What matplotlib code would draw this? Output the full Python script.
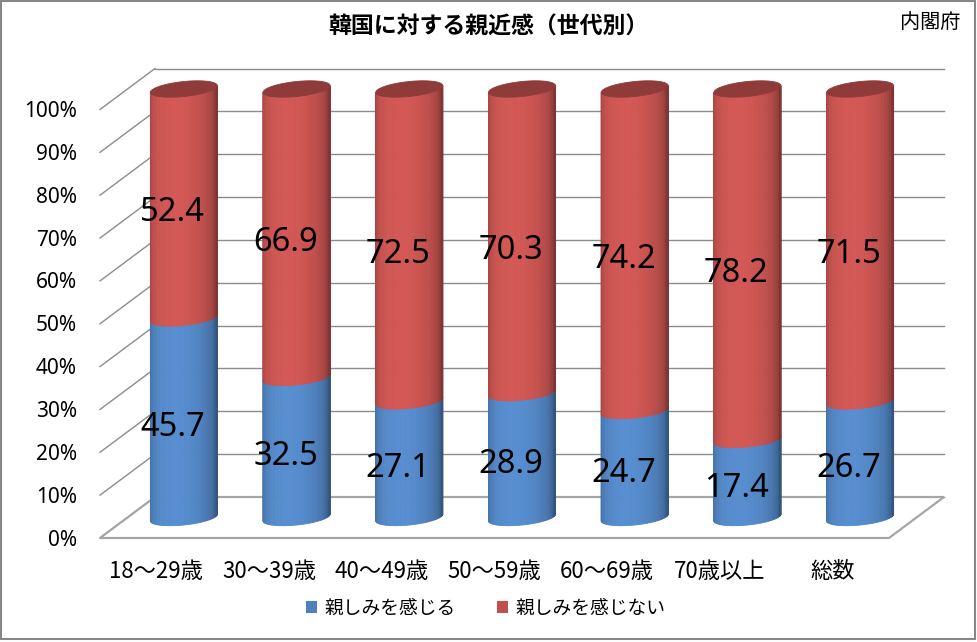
import numpy as np
import matplotlib.pyplot as plt
from matplotlib.patches import Polygon, Patch, Rectangle
from matplotlib.collections import PolyCollection
from matplotlib.colors import to_rgb

plt.rcParams['font.family'] = ['Noto Sans CJK JP', 'DejaVu Sans']

# data (values shown on the cylinders; drawn as 100% stacked)
categories = ["18～29歳", "30～39歳", "40～49歳", "50～59歳", "60～69歳", "70歳以上", "総数"]
feel_close = [45.7, 32.5, 27.1, 28.9, 24.7, 17.4, 26.7]
not_close = [52.4, 66.9, 72.5, 70.3, 74.2, 78.2, 71.5]
series_names = ["親しみを感じる", "親しみを感じない"]
y_ticks = [0, 10, 20, 30, 40, 50, 60, 70, 80, 90, 100]

BLUE = "#4F81BD"
RED = "#C0504D"
GRID = "#8C8C8C"

W, H = 977, 642
fig = plt.figure(figsize=(W / 100, H / 100), dpi=100)

# axes = middle depth plane of the fake 3d box
ax = fig.add_axes([127.5 / W, 124.5 / H, 789 / W, 428.5 / H])
ax.set_xlim(-0.5, len(categories) - 0.5)
ax.set_ylim(0, 100)
ax.axis("off")

px_x = 789 / len(categories)   # pixels per category
px_y = 428.5 / 100             # pixels per percent
dep_x = 27.5 / px_x            # half depth, data units
dep_y = 20.5 / px_y
xl, xr = -0.5, len(categories) - 0.5

# back wall grid, left wall diagonals
for v in y_ticks:
    ax.plot([xl + dep_x, xr + dep_x], [v + dep_y, v + dep_y], color=GRID, lw=1, zorder=1, clip_on=False)
    ax.plot([xl - dep_x, xl + dep_x], [v - dep_y, v + dep_y], color=GRID, lw=1, zorder=1, clip_on=False)

# floor
floor = Polygon([(xl - dep_x, -dep_y), (xr - dep_x, -dep_y), (xr + dep_x, dep_y), (xl + dep_x, dep_y)],
                closed=True, facecolor="white", edgecolor="#A6A6A6", lw=1.6, zorder=2, clip_on=False)
ax.add_patch(floor)

# cylinder shape (pixels)
R = 33.5
B = 7.5
K = 0.1
t_front = np.linspace(np.pi, 2 * np.pi, 49)


def ring(cx, level, t):
    x = cx + R * np.cos(t) / px_x
    y = level + (B * np.sin(t) + K * R * np.cos(t)) / px_y
    return x, y


def shade(base, s):
    return tuple(np.clip(np.array(to_rgb(base)) * s, 0, 1))


def body(cx, lo, hi, base):
    polys, cols = [], []
    for t0, t1 in zip(t_front[:-1], t_front[1:]):
        xa, ya = ring(cx, lo, np.array([t0, t1]))
        xb, yb = ring(cx, hi, np.array([t1, t0]))
        polys.append(list(zip(np.r_[xa, xb], np.r_[ya, yb])))
        th = (t0 + t1) / 2 - 1.5 * np.pi
        s = 0.66 + 0.44 * max(np.cos(th + 0.25), 0) ** 0.7
        cols.append(shade(base, s))
    pc = PolyCollection(polys, facecolors=cols, edgecolors=cols, linewidths=0.6, zorder=3, clip_on=False)
    ax.add_collection(pc)


def cap(cx, level, base):
    t = np.linspace(0, 2 * np.pi, 100)
    x, y = ring(cx, level, t)
    ax.add_patch(Polygon(list(zip(x, y)), closed=True, facecolor=shade(base, 0.74),
                         edgecolor=shade(base, 0.74), lw=0.6, zorder=4, clip_on=False))


for i, (a, b) in enumerate(zip(feel_close, not_close)):
    pa = a / (a + b) * 100
    body(i, 0, pa, BLUE)
    body(i, pa, 100, RED)
    cap(i, 100, RED)
    for val, mid in [(a, pa / 2), (b, (pa + 100) / 2)]:
        ax.annotate(f"{val}", xy=(i, mid), xytext=(-11, -9.5), textcoords="offset pixels",
                    ha="center", va="center", fontsize=23.5, family=["Noto Sans", "DejaVu Sans"],
                    color="black", zorder=6, annotation_clip=False)

# y tick labels on the front plane
for v in y_ticks:
    ax.annotate(f"{v}%", xy=(xl - dep_x, v - dep_y), xytext=(-23, -2), textcoords="offset pixels",
                ha="right", va="center", fontsize=15, family=["Noto Sans", "DejaVu Sans"],
                annotation_clip=False)

# category labels
for i, c in enumerate(categories):
    ax.annotate(c, xy=(i - dep_x, -dep_y), xytext=(0, -34), textcoords="offset pixels",
                ha="center", va="center", fontsize=16, annotation_clip=False)

fig.text(488 / W, 1 - 27 / H, "韓国に対する親近感（世代別）", ha="center", va="center",
         fontsize=16.5, fontweight="bold")
fig.text(960 / W, 1 - 22 / H, "内閣府", ha="right", va="center", fontsize=14.5)

handles = [Patch(facecolor=BLUE), Patch(facecolor=RED)]
fig.legend(handles, series_names, loc="center", bbox_to_anchor=(0.497, 1 - 608 / H), ncol=2,
           frameon=False, fontsize=13.5, handlelength=0.6, handleheight=0.6,
           handletextpad=0.4, columnspacing=2.2)

fig.patches.append(Rectangle((1 / W, 3 / H), 974 / W, 638 / H, transform=fig.transFigure,
                             fill=False, edgecolor="#868686", lw=1.5))

fig.savefig("out.png", dpi=100)
